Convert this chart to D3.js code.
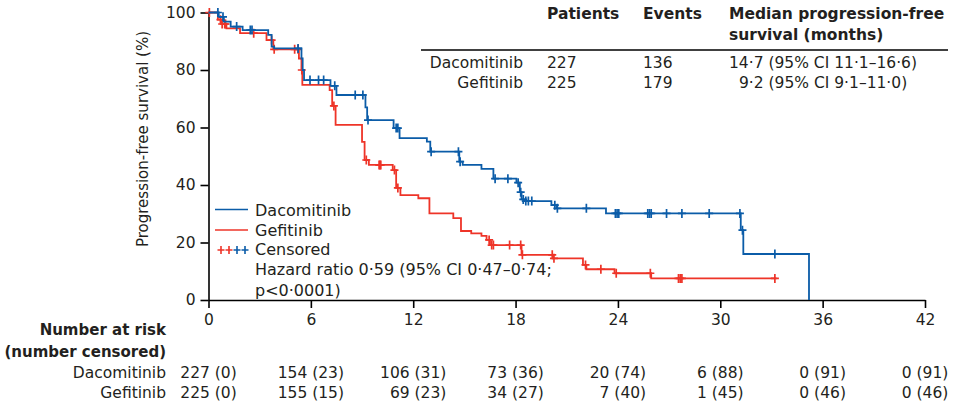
<!DOCTYPE html>
<html lang="en">
<head>
<meta charset="UTF-8">
<title>Progression-free survival</title>
<style>
  body { margin: 0; background: #fff; }
  svg text { font-family: "DejaVu Sans", sans-serif; fill: #231f20; }
</style>
</head>
<body>
<script src="https://cdn.jsdelivr.net/npm/d3@7"></script>
<script>
// --- data ---
var arms = ["Dacomitinib", "Gefitinib"];
var patients = [227, 225];
var events = [136, 179];
var medians = ["14·7 (95% CI 11·1–16·6)", "9·2 (95% CI 9·1–11·0)"];

// Kaplan-Meier steps: time (months) where the curve takes a new value (%)
var dacoTime = [0, 0.6, 0.9, 1.3, 2.0, 3.5, 3.7, 3.85, 5.45, 5.52, 5.6, 7.15, 7.5, 9.2, 9.3, 10.85, 11.2, 12.8, 13.0, 14.7, 14.9, 16.0, 16.7, 18.05, 18.25, 18.35, 18.5, 20.1, 20.4, 23.3, 31.2, 31.35, 35.2];
var dacoSurv = [100, 98.5, 96.8, 95.1, 93.9, 92.2, 88.1, 87.5, 84.0, 80.0, 76.5, 74.5, 71.3, 67.0, 62.6, 59.8, 56.3, 55.1, 51.6, 48.1, 47.0, 45.6, 42.2, 40.8, 37.5, 35.0, 34.4, 33.0, 31.9, 30.1, 24.3, 16.0, 0];
var gefiTime = [0, 0.55, 0.75, 1.05, 1.85, 3.4, 3.8, 5.3, 5.45, 5.5, 7.1, 7.25, 7.45, 9.0, 9.15, 9.4, 10.8, 11.0, 11.25, 12.3, 12.95, 14.35, 14.8, 15.4, 16.0, 16.3, 16.5, 18.35, 20.2, 21.95, 22.15, 23.8, 25.95, 33.3];
var gefiSurv = [100, 97.5, 96.0, 94.5, 92.8, 90.4, 87.2, 84.0, 80.0, 74.8, 73.0, 67.5, 60.9, 55.0, 48.7, 47.0, 45.2, 39.0, 36.5, 35.4, 30.1, 28.5, 24.0, 23.2, 22.3, 20.9, 19.1, 15.7, 14.5, 12.2, 10.7, 9.3, 7.5, 7.5];

// censoring times (months)
var dacoCensor = [0.55, 0.85, 1.65, 2.45, 2.55, 5.25, 5.95, 6.45, 6.75, 7.4, 8.6, 9.05, 9.35, 11.0, 11.1, 13.05, 14.65, 14.75, 16.8, 17.55, 18.15, 18.3, 18.45, 18.6, 18.75, 18.95, 20.3, 20.45, 22.15, 23.85, 23.95, 24.05, 25.75, 25.85, 25.95, 26.85, 27.75, 29.35, 31.15, 31.3, 33.2];
var gefiCensor = [0.05, 0.7, 0.8, 0.95, 1.0, 2.65, 3.7, 3.85, 5.05, 5.25, 5.47, 7.35, 9.25, 10.0, 10.05, 10.1, 10.9, 11.1, 16.45, 16.6, 16.7, 17.65, 18.3, 18.4, 20.15, 20.25, 22.1, 23.0, 23.9, 25.9, 27.55, 27.65, 27.75, 33.2];

var xTicks = [0, 6, 12, 18, 24, 30, 36, 42];
var yTicks = [0, 20, 40, 60, 80, 100];

var dacoAtRisk = [227, 154, 106, 73, 20, 6, 0, 0];
var dacoCens = [0, 23, 31, 36, 74, 88, 91, 91];
var gefiAtRisk = [225, 155, 69, 34, 7, 1, 0, 0];
var gefiCens = [0, 15, 23, 27, 40, 45, 46, 46];

var blue = "#0b5ca8", red = "#ee3428", ink = "#231f20";
var width = 953, height = 415;

var svg = d3.select("body").append("svg")
  .attr("width", width)
  .attr("height", height);

var x = d3.scaleLinear().domain([0, 42]).range([208.5, 925]);
var y = d3.scaleLinear().domain([0, 100]).range([300, 12.5]);

// axes
var yAxis = svg.append("g")
  .attr("transform", "translate(" + x(0) + ",0)")
  .call(d3.axisLeft(y).tickValues(yTicks).tickSize(8).tickSizeOuter(0).tickPadding(5));
var xAxis = svg.append("g")
  .attr("transform", "translate(0," + y(0) + ")")
  .call(d3.axisBottom(x).tickValues(xTicks).tickSize(8).tickSizeOuter(0));
svg.selectAll(".domain, .tick line").attr("stroke", "#000").attr("stroke-width", 1.6);
yAxis.selectAll("text").style("font-size", "15.5px").attr("fill", ink);
xAxis.selectAll("text").style("font-size", "15.5px").attr("fill", ink)
  .attr("y", 20).attr("dy", "0.35em");

svg.append("text")
  .attr("transform", "translate(143,139) rotate(-90)")
  .attr("text-anchor", "middle")
  .attr("dominant-baseline", "central")
  .style("font-size", "15px")
  .text("Progression-free survival (%)");

// curves
function pairs(t, s) { return t.map(function (d, i) { return [d, s[i]]; }); }
function survAt(t, s, v) {
  var i = d3.bisectRight(t, v) - 1;
  return s[Math.max(0, i)];
}
var line = d3.line()
  .x(function (d) { return x(d[0]); })
  .y(function (d) { return y(d[1]); })
  .curve(d3.curveStepAfter);

var arm = [
  { time: gefiTime, surv: gefiSurv, cens: gefiCensor, color: red },
  { time: dacoTime, surv: dacoSurv, cens: dacoCensor, color: blue }
];

arm.forEach(function (a) {
  svg.append("path")
    .datum(pairs(a.time, a.surv))
    .attr("fill", "none")
    .attr("stroke", a.color)
    .attr("stroke-width", 1.8)
    .attr("d", line);
  svg.append("g").selectAll("path")
    .data(a.cens)
    .enter().append("path")
    .attr("transform", function (d) {
      return "translate(" + x(d) + "," + y(survAt(a.time, a.surv, d)) + ")";
    })
    .attr("d", "M-4,0H4M0,-4.5V4.5")
    .attr("stroke", a.color)
    .attr("stroke-width", 1.7);
});

// legend
var leg = svg.append("g").style("font-size", "16px");
[blue, red].forEach(function (c, i) {
  leg.append("line").attr("x1", 215).attr("x2", 248)
    .attr("y1", 209.5 + i * 20.5).attr("y2", 209.5 + i * 20.5)
    .attr("stroke", c).attr("stroke-width", 1.6);
});
leg.selectAll("path.cens")
  .data([red, red, blue, blue])
  .enter().append("path")
  .attr("class", "cens")
  .attr("transform", function (d, i) { return "translate(" + (221 + i * 8) + ",250)"; })
  .attr("d", "M-3.5,0H3.5M0,-4V4")
  .attr("stroke", function (d) { return d; })
  .attr("stroke-width", 1.6);
leg.selectAll("text")
  .data(["Dacomitinib", "Gefitinib", "Censored", "Hazard ratio 0·59 (95% CI 0·47–0·74;", "p<0·0001)"])
  .enter().append("text")
  .attr("x", 255)
  .attr("y", function (d, i) { return [210, 230, 249.5, 269.5, 290][i]; })
  .attr("dominant-baseline", "central")
  .text(function (d) { return d; });

// summary table
var tab = svg.append("g").style("font-size", "15.5px");
var head = tab.append("g").style("font-weight", "bold");
head.append("text").attr("x", 547).attr("y", 14).attr("dominant-baseline", "central").text("Patients");
head.append("text").attr("x", 643).attr("y", 14).attr("dominant-baseline", "central").text("Events");
head.append("text").attr("x", 729).attr("y", 14).attr("dominant-baseline", "central").text("Median progression-free");
head.append("text").attr("x", 729).attr("y", 35).attr("dominant-baseline", "central").text("survival (months)");
tab.append("line").attr("x1", 421).attr("x2", 948).attr("y1", 50).attr("y2", 50)
  .attr("stroke", "#000").attr("stroke-width", 1.6);
arms.forEach(function (name, i) {
  var ry = 63 + i * 20;
  tab.append("text").attr("x", 523).attr("y", ry).attr("text-anchor", "end")
    .attr("dominant-baseline", "central").text(name);
  tab.append("text").attr("x", 547).attr("y", ry).attr("dominant-baseline", "central").text(patients[i]);
  tab.append("text").attr("x", 643).attr("y", ry).attr("dominant-baseline", "central").text(events[i]);
  tab.append("text").attr("x", 729).attr("y", ry).attr("dx", i === 1 ? "0.64em" : 0)
    .attr("dominant-baseline", "central").text(medians[i]);
});

// number at risk
var risk = svg.append("g").style("font-size", "15.5px");
risk.append("text").attr("x", 166).attr("y", 330).attr("text-anchor", "end")
  .attr("dominant-baseline", "central").style("font-weight", "bold").style("font-size", "15px").text("Number at risk");
risk.append("text").attr("x", 166).attr("y", 352).attr("text-anchor", "end")
  .attr("dominant-baseline", "central").style("font-weight", "bold").style("font-size", "15px").text("(number censored)");
var rows = [
  { name: "Dacomitinib", n: dacoAtRisk, c: dacoCens, y: 373 },
  { name: "Gefitinib", n: gefiAtRisk, c: gefiCens, y: 393 }
];
rows.forEach(function (r) {
  risk.append("text").attr("x", 166).attr("y", r.y).attr("text-anchor", "end")
    .attr("dominant-baseline", "central").text(r.name);
});
xTicks.forEach(function (t, j) {
  var cells = rows.map(function (r) {
    return risk.append("text").attr("y", r.y).attr("dominant-baseline", "central")
      .attr("text-anchor", "end").text(r.n[j] + " (" + r.c[j] + ")");
  });
  var w = d3.max(cells, function (c) { return c.node().getComputedTextLength(); });
  cells.forEach(function (c) { c.attr("x", x(t) + w / 2); });
});
</script>
</body>
</html>
